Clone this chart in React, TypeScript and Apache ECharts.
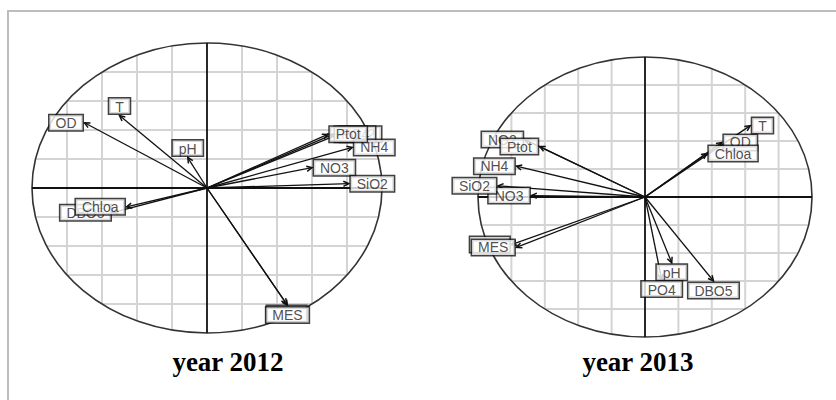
import React, { useEffect, useRef } from 'react';
import * as echarts from 'echarts';

// ---- data: correlation circle coordinates (PC1, PC2) ----
const names2012 = ['OD', 'T', 'pH', 'NO2', 'PO4', 'NH4', 'Ptot', 'NO3', 'SiO2', 'DBO5', 'Chloa', '', 'MES'];
const x2012 = [-0.70, -0.50, -0.11, 0.75, 0.72, 0.83, 0.69, 0.60, 0.81, -0.54, -0.46, 0.455, 0.46];
const y2012 = [0.45, 0.50, 0.21, 0.37, 0.37, 0.28, 0.37, 0.14, 0.03, -0.17, -0.13, -0.80, -0.81];

const names2013 = ['T', 'OD', 'Chloa', 'NO2', 'Ptot', 'NH4', 'NO3', 'SiO2', '', 'MES', 'pH', 'PO4', 'DBO5'];
const x2013 = [0.63, 0.46, 0.37, -0.72, -0.63, -0.77, -0.68, -0.88, -0.80, -0.77, 0.16, 0.10, 0.41];
const y2013 = [0.51, 0.39, 0.31, 0.41, 0.36, 0.22, 0.01, 0.08, -0.34, -0.36, -0.47, -0.59, -0.60];

const titles = ['year 2012', 'year 2013'];
const gridTicks = [-0.8, -0.6, -0.4, -0.2, 0.2, 0.4, 0.6, 0.8];

// ---- layout ----
const grids = [
  { left: 32, top: 43, width: 350, height: 290 },
  { left: 478, top: 57, width: 334, height: 280 },
];
const titlePos = [
  [228, 362],
  [638, 362],
];

function bgRender(_params: any, api: any) {
  const c = api.coord([0, 0]);
  const s = api.size([1, 1]);
  const rx = s[0];
  const ry = s[1];
  const children: any[] = [];
  gridTicks.forEach((v) => {
    const h = Math.sqrt(1 - v * v);
    children.push({
      type: 'line',
      shape: { x1: c[0] + v * rx, y1: c[1] - h * ry, x2: c[0] + v * rx, y2: c[1] + h * ry },
      style: { stroke: '#d4d4d4', lineWidth: 2 },
    });
    children.push({
      type: 'line',
      shape: { x1: c[0] - h * rx, y1: c[1] - v * ry, x2: c[0] + h * rx, y2: c[1] - v * ry },
      style: { stroke: '#d4d4d4', lineWidth: 2 },
    });
  });
  children.push({
    type: 'ellipse',
    shape: { cx: c[0], cy: c[1], rx, ry },
    style: { fill: 'none', stroke: '#333', lineWidth: 1.6 },
  });
  children.push({
    type: 'line',
    shape: { x1: c[0] - rx, y1: c[1], x2: c[0] + rx, y2: c[1] },
    style: { stroke: '#111', lineWidth: 1.8 },
  });
  children.push({
    type: 'line',
    shape: { x1: c[0], y1: c[1] - ry, x2: c[0], y2: c[1] + ry },
    style: { stroke: '#111', lineWidth: 1.8 },
  });
  return { type: 'group', children };
}

function arrowRender(_params: any, api: any) {
  const p0 = api.coord([0, 0]);
  const p1 = api.coord([api.value(0), api.value(1)]);
  const ang = Math.atan2(p1[1] - p0[1], p1[0] - p0[0]);
  const L = 6;
  const a = 0.45;
  return {
    type: 'group',
    children: [
      {
        type: 'line',
        shape: { x1: p0[0], y1: p0[1], x2: p1[0], y2: p1[1] },
        style: { stroke: '#111', lineWidth: 1.3 },
      },
      {
        type: 'polyline',
        shape: {
          points: [
            [p1[0] - L * Math.cos(ang - a), p1[1] - L * Math.sin(ang - a)],
            [p1[0], p1[1]],
            [p1[0] - L * Math.cos(ang + a), p1[1] - L * Math.sin(ang + a)],
          ],
        },
        style: { stroke: '#111', lineWidth: 1.5, fill: 'none' },
      },
    ],
  };
}

function labelPosition(x: number, y: number, g: { width: number; height: number }) {
  const px = (x * g.width) / 2;
  const py = (y * g.height) / 2;
  const deg = (Math.atan2(Math.abs(py), Math.abs(px)) * 180) / Math.PI;
  if (deg < 38) return px >= 0 ? 'right' : 'left';
  return py >= 0 ? 'top' : 'bottom';
}

function buildSeries(names: string[], xs: number[], ys: number[], idx: number) {
  const g = grids[idx];
  const pts = xs.map((x, i) => [x, ys[i]]);
  return [
    {
      type: 'custom',
      xAxisIndex: idx,
      yAxisIndex: idx,
      renderItem: bgRender,
      data: [[0, 0]],
      silent: true,
      z: 1,
    },
    {
      type: 'custom',
      xAxisIndex: idx,
      yAxisIndex: idx,
      renderItem: arrowRender,
      data: pts,
      silent: true,
      z: 2,
    },
    {
      type: 'scatter',
      xAxisIndex: idx,
      yAxisIndex: idx,
      symbolSize: 0,
      silent: true,
      z: 3,
      data: names.map((n, i) => ({
        name: n,
        value: pts[i],
        label: { position: labelPosition(xs[i], ys[i], g) },
      })),
      label: {
        show: true,
        distance: 2,
        formatter: (p: any) => p.name || '\u00a0\u00a0\u00a0\u00a0\u00a0\u00a0\u00a0',
        fontFamily: '"Liberation Sans", Arial, sans-serif',
        fontSize: 14,
        lineHeight: 14,
        color: '#222',
        textBorderWidth: 0,
        backgroundColor: '#ffffff',
        borderColor: '#111',
        borderWidth: 1.5,
        padding: [1, 6, 0, 6],
      },
      emphasis: { disabled: true },
    },
  ];
}

export default function App() {
  const ref = useRef<HTMLDivElement>(null);
  useEffect(() => {
    if (!ref.current) return;
    const chart = echarts.init(ref.current, null, { renderer: 'svg' });
    const axisBase = { type: 'value', min: -1, max: 1, interval: 0.2, show: false };
    chart.setOption({
      animation: false,
      backgroundColor: '#fff',
      grid: grids.map((g) => ({ ...g })),
      xAxis: grids.map((_, i) => ({ ...axisBase, gridIndex: i })),
      yAxis: grids.map((_, i) => ({ ...axisBase, gridIndex: i })),
      series: [
        ...buildSeries(names2012, x2012, y2012, 0),
        ...buildSeries(names2013, x2013, y2013, 1),
      ],
      graphic: [
        {
          type: 'rect',
          z: -10,
          silent: true,
          shape: { x: 8, y: 11, width: 850, height: 420 },
          style: { fill: 'none', stroke: '#bdbdbd', lineWidth: 2 },
        },
        ...titles.map((t, i) => ({
          type: 'text',
          x: titlePos[i][0],
          y: titlePos[i][1],
          silent: true,
          style: {
            text: t,
            fontFamily: '"Liberation Serif", "Times New Roman", serif',
            fontWeight: 'bold',
            fontSize: 27,
            fill: '#000',
            align: 'center',
            verticalAlign: 'middle',
            textAlign: 'center',
            textVerticalAlign: 'middle',
          },
        })),
      ],
    });
    return () => chart.dispose();
  }, []);
  return (
    <div
      ref={ref}
      style={{ position: 'absolute', left: 0, top: 0, width: 836, height: 400 }}
    />
  );
}
